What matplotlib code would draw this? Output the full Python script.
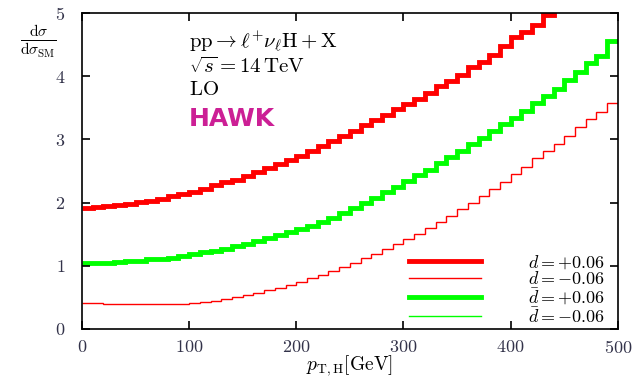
import numpy as np
import matplotlib
matplotlib.use("Agg")
import matplotlib.pyplot as plt

plt.rcParams['font.family'] = 'serif'
plt.rcParams['font.serif'] = ['cmr10']
plt.rcParams['mathtext.fontset'] = 'cm'
plt.rcParams['axes.formatter.use_mathtext'] = True

# 10 GeV bins in p_T,H
edges = np.arange(0, 510, 10)

# d = +0.06 (thick red)
d_plus = [1.92, 1.93, 1.95, 1.96, 1.98, 2.01, 2.03, 2.06, 2.10, 2.13,
          2.16, 2.21, 2.27, 2.32, 2.36, 2.42, 2.49, 2.55, 2.61, 2.68,
          2.74, 2.82, 2.90, 2.98, 3.05, 3.13, 3.22, 3.30, 3.39, 3.48,
          3.56, 3.63, 3.73, 3.85, 3.93, 4.02, 4.14, 4.23, 4.34, 4.47,
          4.62, 4.70, 4.81, 4.96, 5.10, 5.24, 5.38, 5.52, 5.67, 5.82]

# d = -0.06 (thin red)
d_minus = [0.41, 0.41, 0.40, 0.39, 0.39, 0.39, 0.39, 0.39, 0.40, 0.40,
           0.41, 0.42, 0.44, 0.47, 0.50, 0.53, 0.57, 0.61, 0.65, 0.70,
           0.75, 0.80, 0.86, 0.92, 0.98, 1.05, 1.12, 1.19, 1.27, 1.35,
           1.43, 1.51, 1.60, 1.69, 1.79, 1.89, 2.00, 2.11, 2.22, 2.33,
           2.45, 2.57, 2.70, 2.82, 2.93, 3.06, 3.20, 3.32, 3.44, 3.57]

# dbar = +0.06 (thick green)
dbar_plus = [1.04, 1.04, 1.05, 1.06, 1.07, 1.08, 1.10, 1.11, 1.13, 1.16,
             1.18, 1.21, 1.24, 1.27, 1.31, 1.35, 1.39, 1.44, 1.49, 1.53,
             1.58, 1.63, 1.69, 1.76, 1.83, 1.91, 1.99, 2.07, 2.16, 2.25,
             2.34, 2.43, 2.52, 2.62, 2.72, 2.82, 2.92, 3.02, 3.13, 3.24,
             3.34, 3.45, 3.58, 3.69, 3.80, 3.94, 4.07, 4.20, 4.32, 4.55]

# dbar = -0.06 (thin green) lies under the thick green one
dbar_minus = [1.04, 1.04, 1.05, 1.06, 1.07, 1.08, 1.10, 1.11, 1.13, 1.16,
              1.18, 1.21, 1.24, 1.27, 1.31, 1.35, 1.39, 1.44, 1.49, 1.53,
              1.58, 1.63, 1.69, 1.76, 1.83, 1.91, 1.99, 2.07, 2.16, 2.25,
              2.34, 2.43, 2.52, 2.62, 2.72, 2.82, 2.92, 3.02, 3.13, 3.24,
              3.34, 3.45, 3.58, 3.69, 3.80, 3.94, 4.07, 4.20, 4.32, 4.55]

fig = plt.figure(figsize=(6.35, 3.79), dpi=100)
ax = fig.add_axes([0.129, 0.132, 0.844, 0.834])

ax.stairs(d_plus, edges, baseline=None, color='#ff0000', lw=3.5, label=r'$d=+0.06$')
ax.stairs(d_minus, edges, baseline=None, color='#ff0000', lw=1.0, label=r'$d=-0.06$')
ax.stairs(dbar_plus, edges, baseline=None, color='#00ff00', lw=3.5, label=r'$\bar{d}=+0.06$')
ax.stairs(dbar_minus, edges, baseline=None, color='#00ff00', lw=1.0, label=r'$\bar{d}=-0.06$')

ax.set_xlim(0, 500)
ax.set_ylim(0, 5)
ax.set_xticks([0, 100, 200, 300, 400, 500])
ax.set_yticks([0, 1, 2, 3, 4, 5])
ax.tick_params(direction='in', top=True, right=True, length=6, width=1.2,
               labelsize=13, labelcolor='#33334a')
ax.tick_params(axis='x', pad=7)
ax.tick_params(axis='y', pad=12)
for s in ax.spines.values():
    s.set_linewidth(1.2)

ax.set_xlabel(r'$p_{\mathrm{T,H}}[\mathrm{GeV}]$', fontsize=14, labelpad=-2)
fig.text(0.06, 0.89, r'$\frac{\mathrm{d}\sigma}{\mathrm{d}\sigma_{\mathrm{SM}}}$',
         fontsize=16, ha='center', va='center')

ax.text(0.2, 0.91, r'$\mathrm{pp} \rightarrow \ell^{+}\nu_{\ell}\mathrm{H} + \mathrm{X}$',
        transform=ax.transAxes, fontsize=15, va='center')
ax.text(0.2, 0.83, r'$\sqrt{s} = 14\,\mathrm{TeV}$',
        transform=ax.transAxes, fontsize=15, va='center')
ax.text(0.2, 0.755, r'$\mathrm{LO}$',
        transform=ax.transAxes, fontsize=15, va='center')
ax.text(0.2, 0.665, 'HAWK', transform=ax.transAxes, fontsize=18,
        family='DejaVu Sans', weight='bold', color='#cc1f95', va='center')

leg = ax.legend(loc='lower right', bbox_to_anchor=(0.99, -0.012), frameon=False,
                fontsize=13, handlelength=4.0, handletextpad=2.6,
                labelspacing=-0.05, borderaxespad=0.0)

fig.savefig('out.png', dpi=100)
